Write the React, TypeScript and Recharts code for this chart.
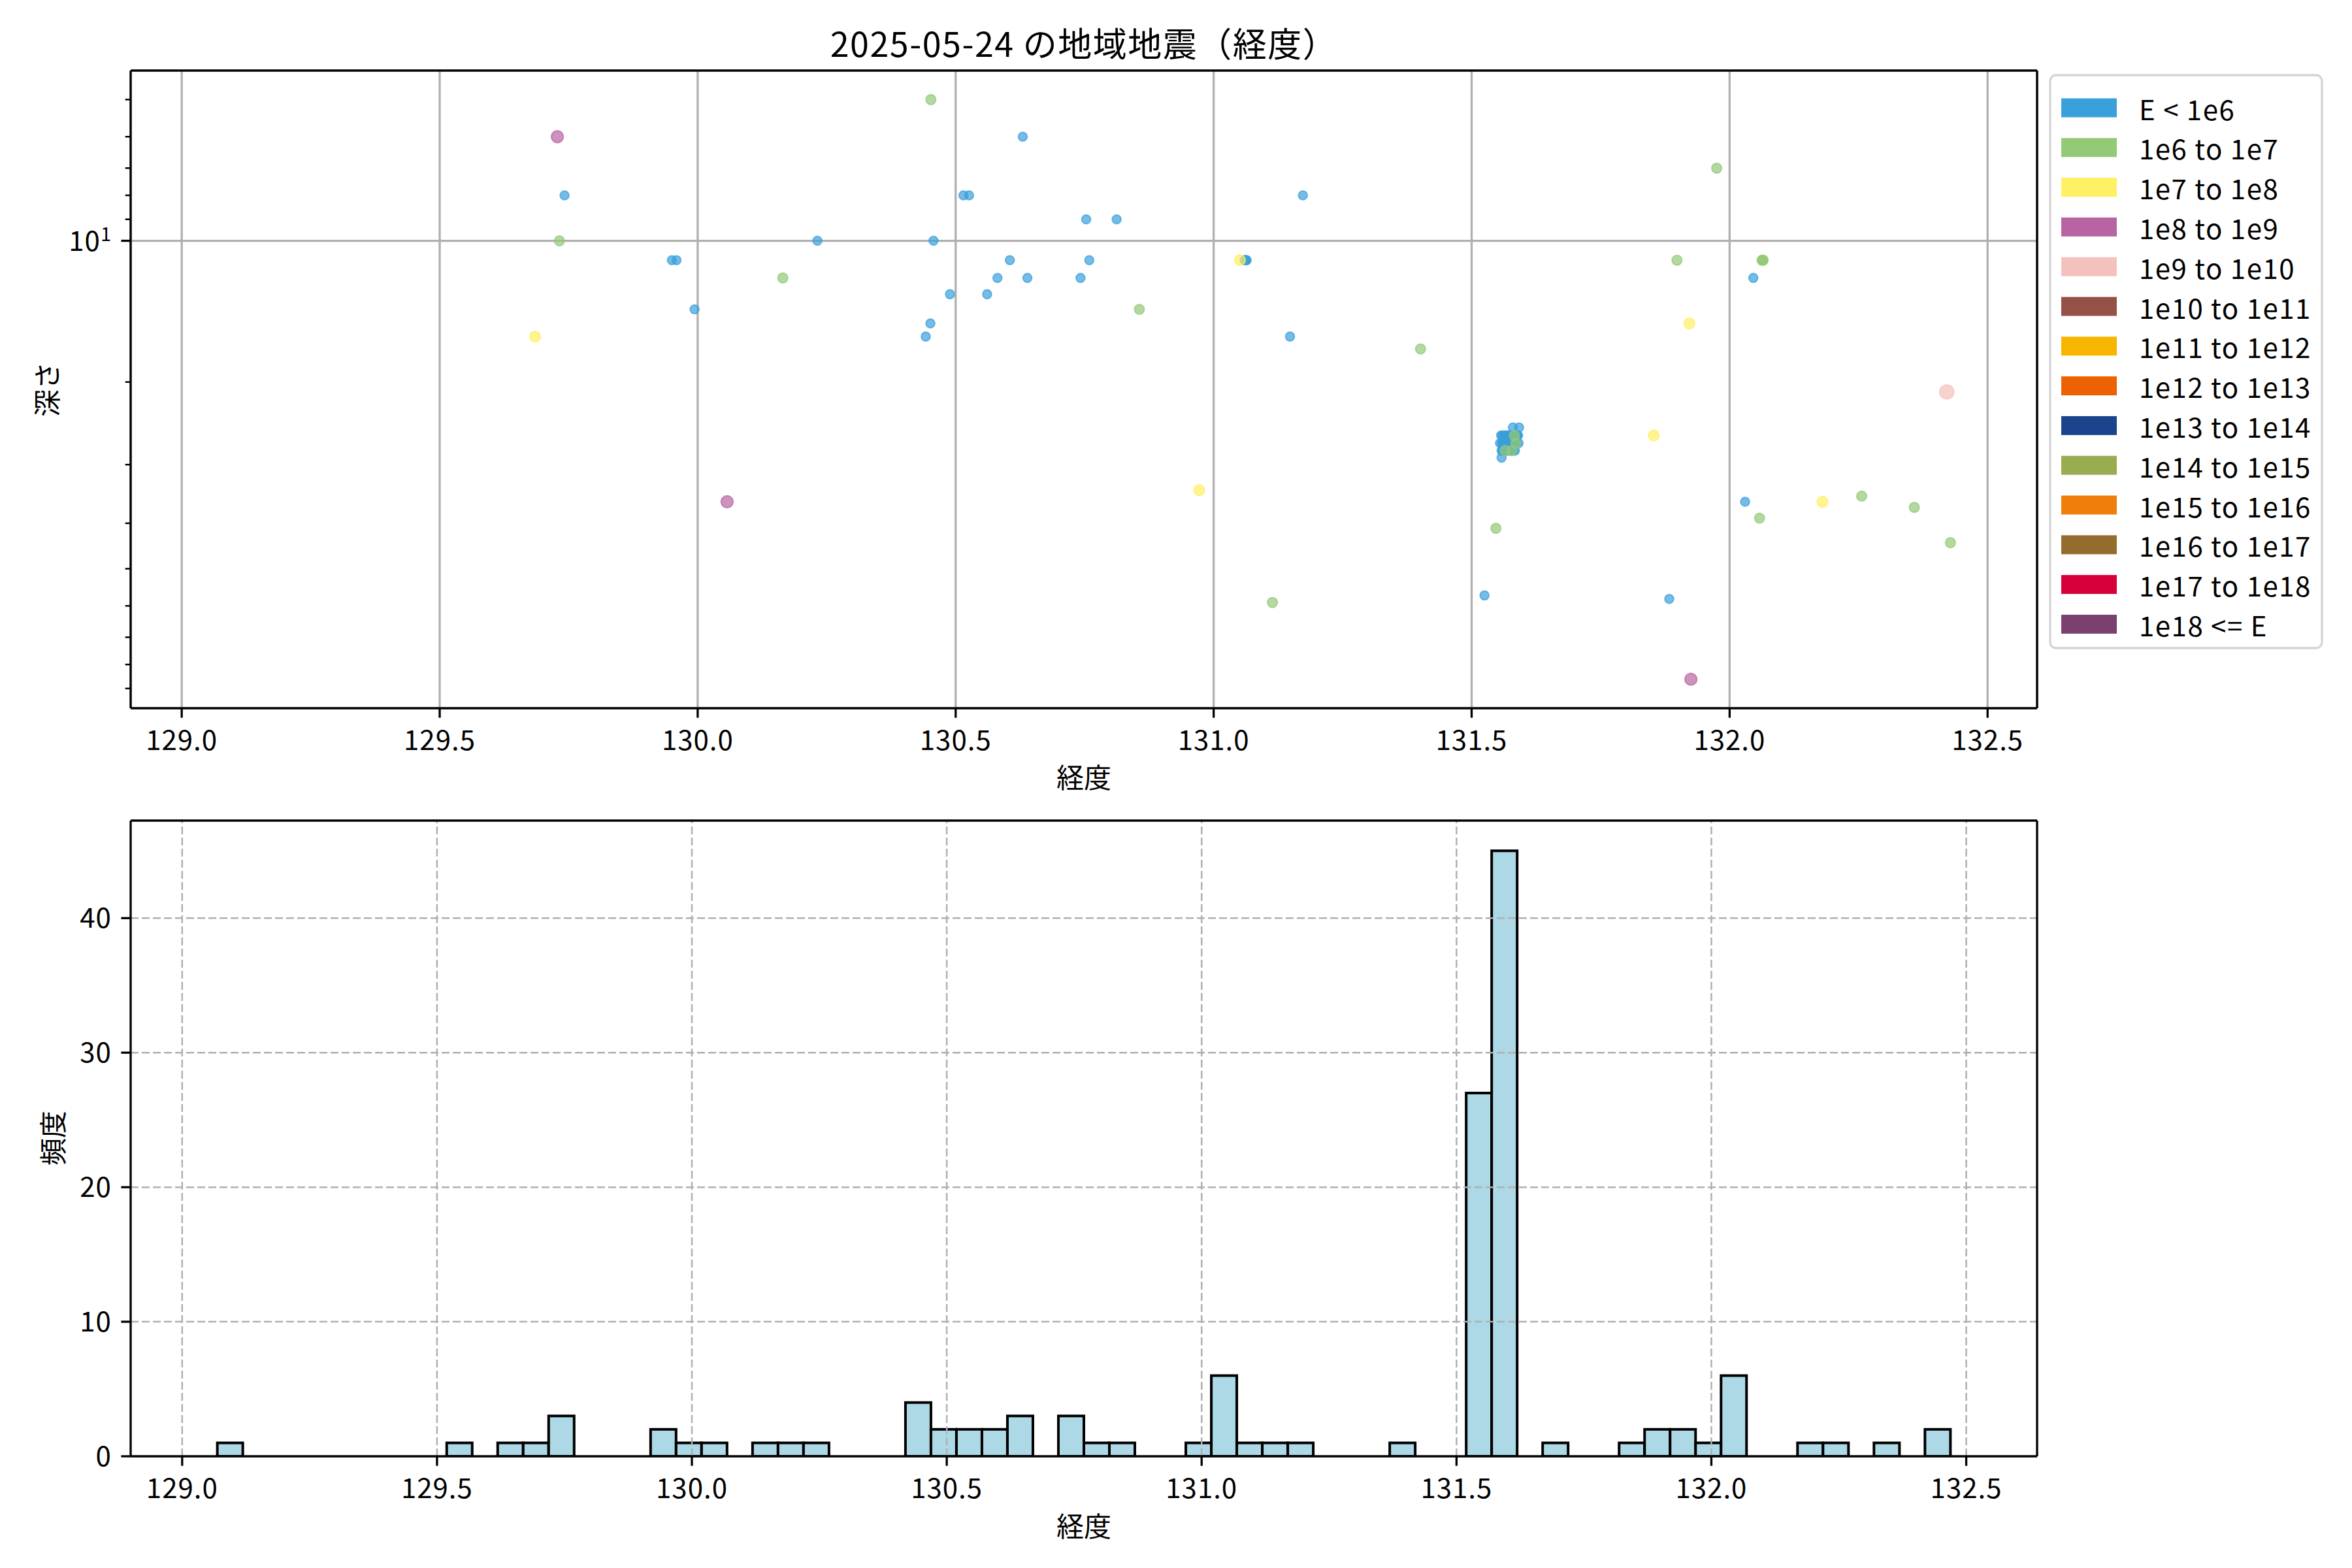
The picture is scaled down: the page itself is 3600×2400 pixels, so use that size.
import React from 'react';
import {
  ScatterChart,
  Scatter,
  BarChart,
  Bar,
  XAxis,
  YAxis,
  CartesianGrid,
  ReferenceLine,
} from 'recharts';

// ---------------- text ----------------
const TITLE = '2025-05-24 の地域地震（経度）';
const X_LABEL = '経度';
const Y_LABEL_SCATTER = '深さ';
const Y_LABEL_HIST = '頻度';

// ---------------- energy classes (legend) ----------------
const CLASS_LABELS = [
  'E < 1e6',
  '1e6 to 1e7',
  '1e7 to 1e8',
  '1e8 to 1e9',
  '1e9 to 1e10',
  '1e10 to 1e11',
  '1e11 to 1e12',
  '1e12 to 1e13',
  '1e13 to 1e14',
  '1e14 to 1e15',
  '1e15 to 1e16',
  '1e16 to 1e17',
  '1e17 to 1e18',
  '1e18 <= E',
];
const CLASS_COLORS = [
  '#3aa0dc',
  '#93c977',
  '#fff064',
  '#b964a2',
  '#f4c1bc',
  '#955048',
  '#f8b500',
  '#ec6100',
  '#1c448c',
  '#9aac50',
  '#ef7f0a',
  '#946c2c',
  '#d7003a',
  '#7b3f70',
];
const CLASS_RADIUS = [6.8, 7.6, 8.2, 9.2, 10.8];

// ---------------- events ----------------
// longitude (deg), depth (km; 0 = cannot be shown on the log axis), energy class index
const LON = [
  129.069, 129.540, 129.640, 129.685, 129.728, 129.732, 129.742, 129.950, 129.959, 129.994,
  130.057, 130.165, 130.190, 130.232, 130.442, 130.451, 130.452, 130.457, 130.489, 130.515,
  130.526, 130.561, 130.581, 130.605, 130.630, 130.639, 130.650, 130.742, 130.753, 130.759,
  130.812, 130.856, 130.972, 131.051, 131.060, 131.061, 131.062, 131.063, 131.064, 131.114,
  131.148, 131.173, 131.401, 131.525, 131.547, 131.558, 131.690, 131.853, 131.883, 131.898,
  131.922, 131.925, 131.975, 132.030, 132.046, 132.058, 132.063, 132.064, 132.065, 132.180,
  132.256, 132.358, 132.421, 132.428,
  // cluster west part
  131.555, 131.557, 131.558, 131.559, 131.560, 131.561, 131.561, 131.562, 131.562, 131.563,
  131.563, 131.564, 131.564, 131.565, 131.565, 131.566, 131.566, 131.567, 131.567, 131.567,
  131.568, 131.568, 131.560, 131.566,
  // cluster east part
  131.571, 131.571, 131.572, 131.572, 131.573, 131.573, 131.574, 131.574, 131.575, 131.575,
  131.576, 131.576, 131.577, 131.577, 131.578, 131.578, 131.579, 131.579, 131.580, 131.580,
  131.581, 131.581, 131.582, 131.582, 131.583, 131.583, 131.584, 131.584, 131.585, 131.585,
  131.586, 131.586, 131.587, 131.587, 131.588, 131.588, 131.589, 131.590, 131.591, 131.592,
  131.580, 131.574, 131.577, 131.578, 131.583,
];
const DEPTH = [
  0, 0, 0, 16, 6, 10, 8, 11, 11, 14,
  36, 12, 0, 10, 16, 15, 5, 10, 13, 8,
  8, 13, 12, 11, 6, 12, 0, 12, 9, 11,
  9, 14, 34, 11, 11, 11, 11, 11, 11, 59,
  16, 8, 17, 57, 41, 29, 0, 26, 58, 11,
  15, 86, 7, 36, 12, 39, 11, 11, 11, 36,
  35, 37, 21, 44,
  27, 26, 28, 27, 26, 27, 28, 26, 27, 27,
  28, 26, 27, 27, 28, 27, 26, 27, 27, 28,
  27, 26, 28, 27,
  26, 27, 28, 26, 26, 27, 27, 28, 26, 27,
  26, 26, 27, 28, 26, 27, 27, 26, 25, 27,
  26, 28, 27, 26, 26, 27, 26, 28, 27, 26,
  27, 26, 26, 27, 26, 27, 26, 26, 27, 25,
  26, 27, 27, 28, 26,
];
const ENERGY_CLASS = [
  0, 0, 0, 2, 3, 1, 0, 0, 0, 0,
  3, 1, 0, 0, 0, 0, 1, 0, 0, 0,
  0, 0, 0, 0, 0, 0, 0, 0, 0, 0,
  0, 1, 2, 2, 0, 0, 0, 0, 0, 1,
  0, 0, 1, 0, 1, 0, 0, 2, 0, 1,
  2, 3, 1, 0, 0, 1, 1, 1, 1, 2,
  1, 1, 4, 1,
  0, 0, 0, 0, 0, 0, 0, 0, 0, 0,
  0, 0, 0, 0, 1, 0, 0, 0, 0, 0,
  0, 0, 0, 0,
  0, 0, 0, 0, 0, 0, 0, 0, 0, 0,
  0, 0, 0, 0, 0, 0, 0, 0, 0, 0,
  0, 0, 0, 0, 0, 0, 0, 0, 0, 0,
  1, 0, 0, 0, 0, 0, 0, 0, 0, 0,
  0, 0, 0, 1, 1,
];

// ---------------- tick values ----------------
const LON_TICKS = [129.0, 129.5, 130.0, 130.5, 131.0, 131.5, 132.0, 132.5];
const DEPTH_TICKS = [5, 6, 7, 8, 9, 10, 20, 30, 40, 50, 60, 70, 80, 90];
const DEPTH_GRID = [10];
const COUNT_TICKS = [0, 10, 20, 30, 40];
const COUNT_GRID = [10, 20, 30, 40];
const BIN_WIDTH = 0.05;

// ---------------- derived (like matplotlib) ----------------
const events = LON.map((lon, i) => ({ lon, depth: DEPTH[i], cls: ENERGY_CLASS[i] }));
const pad = (a: number, b: number): [number, number] => [a - 0.05 * (b - a), b + 0.05 * (b - a)];
const lonMin = Math.min(...LON);
const lonMax = Math.max(...LON);
const scatterXDomain = pad(lonMin, lonMax);
const shown = events.filter((e) => e.depth > 0);
const lgMin = Math.log10(Math.min(...shown.map((e) => e.depth)));
const lgMax = Math.log10(Math.max(...shown.map((e) => e.depth)));
const lgPad = pad(lgMin, lgMax);
const depthDomain: [number, number] = [Math.pow(10, lgPad[0]), Math.pow(10, lgPad[1])];

const nEdges = Math.floor((lonMax + BIN_WIDTH - lonMin) / BIN_WIDTH - 1e-9) + 1;
const nBins = nEdges - 1;
const counts: number[] = new Array(nBins).fill(0);
LON.forEach((v) => {
  let k = Math.floor((v - lonMin) / BIN_WIDTH + 1e-9);
  if (k >= nBins) k = nBins - 1;
  counts[k] += 1;
});
const histData = counts.map((c, k) => ({ center: lonMin + (k + 0.5) * BIN_WIDTH, count: c }));
const histXDomain = pad(lonMin, lonMin + nBins * BIN_WIDTH);
const countDomain: [number, number] = [0, Math.max(...counts) * 1.05];

// ---------------- layout / style ----------------
const FONT = '"Noto Sans CJK JP", "Noto Sans", sans-serif';
const PLOT_LEFT = 200;
const AXIS_W = 3.3;
const TICK_LEN = 14.6;
const TICK_FS = 42;
const tickStyle = { fontSize: TICK_FS, fill: '#000', fontFamily: FONT, letterSpacing: 1 };
const axisLine = { stroke: '#000', strokeWidth: AXIS_W };
const tickLine = { stroke: '#000', strokeWidth: AXIS_W };

const LogYTick = (props: any) => {
  const { y, payload } = props;
  const v = payload.value;
  const lg = Math.log10(v);
  const major = Math.abs(lg - Math.round(lg)) < 1e-9;
  const len = major ? TICK_LEN : 8.3;
  return (
    <g>
      <line x1={PLOT_LEFT - len} x2={PLOT_LEFT} y1={y} y2={y} stroke="#000" strokeWidth={major ? AXIS_W : 2.5} />
      {major && (
        <text x={PLOT_LEFT - 29} y={y + 15} textAnchor="end" fontSize={TICK_FS} fill="#000" fontFamily={FONT} letterSpacing={1}>
          10
          <tspan dy={-15} fontSize={29}>
            {Math.round(lg)}
          </tspan>
        </text>
      )}
    </g>
  );
};

const makeDot = (cls: number) => (p: any) => {
  if (p.cx == null || p.cy == null || !isFinite(p.cx) || !isFinite(p.cy)) return <g />;
  const c = CLASS_COLORS[cls];
  return (
    <circle
      cx={p.cx}
      cy={p.cy}
      r={CLASS_RADIUS[cls] ?? 7}
      fill={c}
      fillOpacity={0.7}
      stroke={c}
      strokeOpacity={0.7}
      strokeWidth={2}
    />
  );
};

const classesPresent = Array.from(new Set(shown.map((e) => e.cls))).sort((a, b) => a - b);

const spine = { stroke: '#000', strokeWidth: AXIS_W, ifOverflow: 'visible' as const };

function ScatterPanel() {
  return (
    <ScatterChart width={3600} height={1200} margin={{ top: 108, right: 482, bottom: 0, left: 0 }}>
      <CartesianGrid horizontal={false} stroke="#b0b0b0" strokeWidth={3.3} />
      <ReferenceLine y={DEPTH_GRID[0]} stroke="#b0b0b0" strokeWidth={3.3} />
      <XAxis
        type="number"
        dataKey="lon"
        domain={scatterXDomain}
        allowDataOverflow
        ticks={LON_TICKS}
        interval={0}
        tickFormatter={(v: number) => v.toFixed(1)}
        height={116}
        tickSize={TICK_LEN}
        tickMargin={20}
        tick={tickStyle}
        tickLine={tickLine}
        axisLine={axisLine}
      />
      <YAxis
        type="number"
        dataKey="depth"
        scale="log"
        domain={depthDomain}
        allowDataOverflow
        reversed
        ticks={DEPTH_TICKS}
        interval={0}
        width={200}
        tick={<LogYTick />}
        tickLine={false}
        axisLine={axisLine}
      />
      {classesPresent.map((cls) => (
        <Scatter
          key={cls}
          data={shown.filter((e) => e.cls === cls)}
          fill={CLASS_COLORS[cls]}
          shape={makeDot(cls)}
          isAnimationActive={false}
        />
      ))}
      <ReferenceLine y={depthDomain[0]} {...spine} />
      <ReferenceLine x={scatterXDomain[1]} {...spine} />
    </ScatterChart>
  );
}

function HistPanel() {
  return (
    <BarChart
      width={3600}
      height={1200}
      data={histData}
      margin={{ top: 56, right: 482, bottom: 0, left: 0 }}
      barCategoryGap={0}
      barGap={0}
    >
      <XAxis
        type="number"
        dataKey="center"
        domain={histXDomain}
        allowDataOverflow
        ticks={LON_TICKS}
        interval={0}
        tickFormatter={(v: number) => v.toFixed(1)}
        height={171}
        tickSize={TICK_LEN}
        tickMargin={20}
        tick={tickStyle}
        tickLine={tickLine}
        axisLine={axisLine}
      />
      <YAxis
        type="number"
        domain={countDomain}
        allowDataOverflow
        ticks={COUNT_TICKS}
        interval={0}
        width={200}
        tickSize={TICK_LEN}
        tickMargin={14.6}
        tick={tickStyle}
        tickLine={tickLine}
        axisLine={axisLine}
      />
      <Bar dataKey="count" fill="#add8e6" stroke="#000" strokeWidth={4} isAnimationActive={false} />
      {COUNT_GRID.map((v) => (
        <ReferenceLine key={'h' + v} y={v} stroke="#b0b0b0" strokeWidth={2.5} strokeDasharray="12 5" />
      ))}
      {LON_TICKS.map((v) => (
        <ReferenceLine key={'v' + v} x={v} stroke="#b0b0b0" strokeWidth={2.5} strokeDasharray="12 5" />
      ))}
      <ReferenceLine y={countDomain[1]} {...spine} />
      <ReferenceLine x={histXDomain[1]} {...spine} />
    </BarChart>
  );
}

function Overlay() {
  return (
    <svg
      width={3600}
      height={2400}
      style={{ position: 'absolute', left: 0, top: 0, pointerEvents: 'none' }}
      fontFamily={FONT}
    >
      <text x={1659} y={64} textAnchor="middle" dominantBaseline="central" fontSize={52} fill="#000" letterSpacing={1.5}>
        {TITLE}
      </text>
      <text x={1659} y={1187} textAnchor="middle" dominantBaseline="central" fontSize={42} fill="#000">
        {X_LABEL}
      </text>
      <text x={1659} y={2333} textAnchor="middle" dominantBaseline="central" fontSize={42} fill="#000">
        {X_LABEL}
      </text>
      <text
        x={69}
        y={596}
        textAnchor="middle"
        dominantBaseline="central"
        fontSize={42}
        fill="#000"
        transform="rotate(-90 69 596)"
      >
        {Y_LABEL_SCATTER}
      </text>
      <text
        x={78}
        y={1742}
        textAnchor="middle"
        dominantBaseline="central"
        fontSize={42}
        fill="#000"
        transform="rotate(-90 78 1742)"
      >
        {Y_LABEL_HIST}
      </text>
      <rect x={3138} y={115} width={416} height={877} rx={9} fill="#fff" stroke="#d5d5d5" strokeWidth={3.3} />
      {CLASS_LABELS.map((lab, i) => {
        const cy = 165 + i * 60.8;
        return (
          <g key={lab}>
            <rect x={3155} y={cy - 14.5} width={85} height={29} fill={CLASS_COLORS[i]} />
            <text x={3274} y={cy} dominantBaseline="central" fontSize={42} fill="#000" letterSpacing={1.5}>
              {lab}
            </text>
          </g>
        );
      })}
    </svg>
  );
}

export default function App() {
  return (
    <div
      style={{
        position: 'absolute',
        left: 0,
        top: 0,
        width: 3600,
        height: 2400,
        background: '#fff',
        fontFamily: FONT,
      }}
    >
      <div style={{ position: 'absolute', left: 0, top: 0 }}>
        <ScatterPanel />
      </div>
      <div style={{ position: 'absolute', left: 0, top: 1200 }}>
        <HistPanel />
      </div>
      <Overlay />
    </div>
  );
}
